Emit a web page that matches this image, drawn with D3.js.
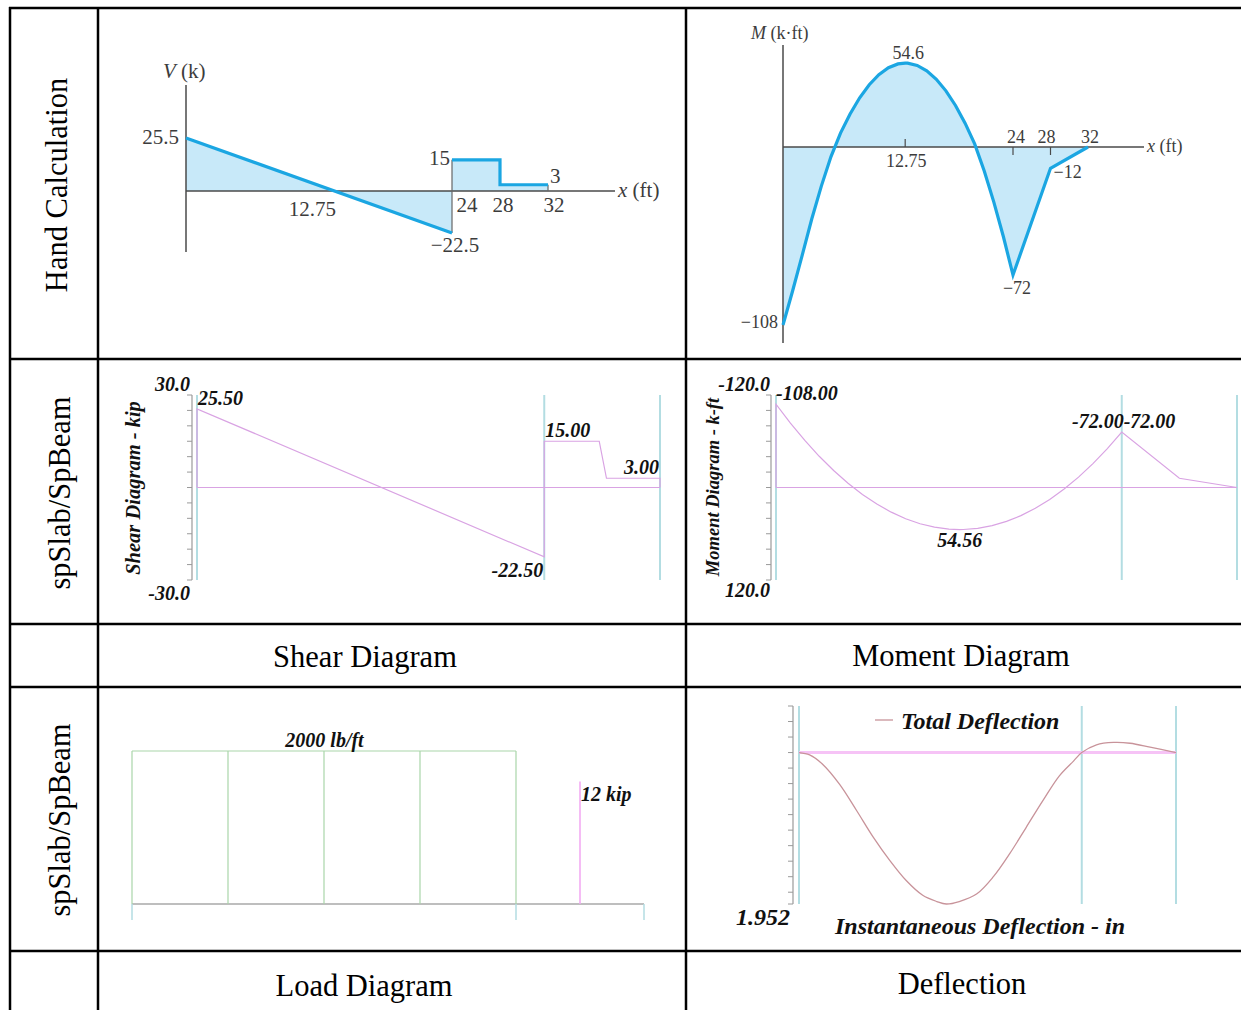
<!DOCTYPE html>
<html>
<head>
<meta charset="utf-8">
<script src="https://cdn.jsdelivr.net/npm/d3@7"></script>
<style>
body { margin: 0; background: #fff; }
svg text { font-family: "Liberation Serif", "Times New Roman", serif; }
.hand { font-family: "Liberation Serif", serif; fill: #3c3c3c; font-size: 21px; }
.hand-s { font-family: "Liberation Serif", serif; fill: #3c3c3c; font-size: 18px; }
.sp { font-family: "Liberation Serif", serif; font-weight: bold; font-style: italic; fill: #111; font-size: 20px; }
.sp-y { font-family: "Liberation Serif", serif; font-weight: bold; font-style: italic; fill: #111; font-size: 20.5px; }
.sp-ym { font-family: "Liberation Serif", serif; font-weight: bold; font-style: italic; fill: #111; font-size: 18.5px; }
.sp-l { font-family: "Liberation Serif", serif; font-weight: bold; font-style: italic; fill: #111; font-size: 24px; }
.head { font-family: "Liberation Serif", serif; font-size: 30.5px; fill: #000; }
</style>
</head>
<body>
<svg id="chart" width="1241" height="1010"></svg>
<script>
"use strict";

// hand calculation: shear V (k) along x (ft)
var handShearX = [0, 24, 24, 28, 28, 32, 32];
var handShearV = [25.5, -22.5, 15, 15, 3, 3, 0];
var handShearXTicks = [12.75, 24, 28, 32];

// bending moment M (k-ft), read every foot over the loaded span, then the overhang
var momentX = [0, 1, 2, 3, 4, 5, 6, 7, 8, 9, 10, 11, 12, 12.75, 13, 14, 15, 16, 17, 18, 19, 20, 21, 22, 23, 24, 28, 32];
var momentM = [-108, -83.5, -61, -40.5, -22, -5.5, 9, 21.5, 32, 40.5, 47, 51.5, 54, 54.56, 54.5, 53, 49.5, 44, 36.5, 27, 15.5, 2, -13.5, -31, -50.5, -72, -12, 0];
var handMomentXTicks = [12.75, 24, 28, 32];

// spSlab shear (kip), point load spread over a short length
var spShearX = [0, 0, 24, 24, 27.8, 28.3, 32, 32];
var spShearV = [0, 25.5, -22.5, 15, 15, 3, 3, 0];
var shearTicks = [30, 25, 20, 15, 10, 5, 0, -5, -10, -15, -20, -25, -30];
var momentTicks = [-120, -100, -80, -60, -40, -20, 0, 20, 40, 60, 80, 100, 120];

// supports / span ends (ft)
var supportX = [0, 24, 32];

// loads
var loadPanelX = [0, 6, 12, 18, 24];
var loadW = 2000;      // lb/ft
var pointLoadX = 28;   // ft
var pointLoadP = 12;   // kip

// instantaneous deflection (in), down is positive
var deflX = [0, 0.9, 2, 3.45, 4.9, 6.3, 7.7, 9.1, 10.5, 11.7, 12.5, 13.6, 15.1, 16.5, 17.9, 19.3, 20.7, 22.1, 23.3, 24, 25.25, 26.7, 28.1, 29.8, 32];
var deflY = [0, 0.03, 0.15, 0.41, 0.75, 1.09, 1.39, 1.65, 1.84, 1.92, 1.952, 1.92, 1.82, 1.60, 1.30, 0.96, 0.62, 0.30, 0.11, 0, -0.10, -0.13, -0.12, -0.07, 0];
var deflTicks = [-0.6, -0.4, -0.2, 0, 0.2, 0.4, 0.6, 0.8, 1.0, 1.2, 1.4, 1.6, 1.8, 1.952];
var deflMax = 1.952;

var svg = d3.select("#chart");
var minus = function(v) { return String(v).replace("-", "\u2212"); };
// spSlab prints a plain hyphen for negatives
var spLocale = d3.formatLocale({ decimal: ".", thousands: ",", grouping: [3], currency: ["$", ""], minus: "-" });

function label(g, cls, x, y, txt, anchor) {
    return g.append("text")
        .attr("class", cls)
        .attr("x", x)
        .attr("y", y)
        .attr("dy", "0.35em")
        .attr("text-anchor", anchor || "start")
        .text(txt);
}

function vline(g, x, y1, y2, color, w) {
    g.append("line")
        .attr("x1", x).attr("x2", x)
        .attr("y1", y1).attr("y2", y2)
        .attr("stroke", color)
        .attr("stroke-width", w);
}

function hline(g, x1, x2, y, color, w) {
    g.append("line")
        .attr("x1", x1).attr("x2", x2)
        .attr("y1", y).attr("y2", y)
        .attr("stroke", color)
        .attr("stroke-width", w);
}

// ---- table grid
var grid = svg.append("g");
[8, 359, 624, 687, 951].forEach(function(y) { hline(grid, 9, 1241, y, "#000", 2.5); });
[10, 98, 686].forEach(function(x) { vline(grid, x, 7, 1010, "#000", 2.5); });

function rotText(x, y, txt, cls) {
    svg.append("text")
        .attr("class", cls)
        .attr("transform", "translate(" + x + "," + y + ") rotate(-90)")
        .attr("text-anchor", "middle")
        .attr("dy", "0.35em")
        .text(txt);
}
rotText(56, 185, "Hand Calculation", "head");
rotText(59, 493, "spSlab/SpBeam", "head");
rotText(59, 820, "spSlab/SpBeam", "head");
label(svg, "head", 365, 656, "Shear Diagram", "middle");
label(svg, "head", 961, 655, "Moment Diagram", "middle");
label(svg, "head", 364, 985, "Load Diagram", "middle");
label(svg, "head", 962, 983, "Deflection", "middle");

var blue = "#1ba6e2", blueFill = "#c8e9f9", axisDark = "#4a4a4a";

// ---- hand calculation: shear
(function() {
    var g = svg.append("g");
    var x = d3.scaleLinear().domain([0, 24, 32]).range([186, 452, 548]);
    var y = d3.scaleLinear().domain([-22.5, 0, 25.5]).range([233, 191, 138]);
    var pts = handShearX.map(function(d, i) { return { x: d, v: handShearV[i] }; });
    var line = d3.line().x(function(d) { return x(d.x); }).y(function(d) { return y(d.v); });

    g.append("path").datum(pts)
        .attr("d", d3.area().x(function(d) { return x(d.x); }).y0(y(0)).y1(function(d) { return y(d.v); }))
        .attr("fill", blueFill);
    vline(g, x(0), 85, 252, axisDark, 1.5);
    hline(g, x(0), 615, y(0), axisDark, 1.5);
    g.append("path").datum([pts[1], pts[2]]).attr("d", line).attr("fill", "none").attr("stroke", "#666").attr("stroke-width", 1.2);
    g.append("path").datum([pts[5], pts[6]]).attr("d", line).attr("fill", "none").attr("stroke", "#666").attr("stroke-width", 1.2);
    g.append("path").datum(pts.slice(0, 2)).attr("d", line).attr("fill", "none").attr("stroke", blue).attr("stroke-width", 3.2);
    g.append("path").datum(pts.slice(2, 6)).attr("d", line).attr("fill", "none").attr("stroke", blue).attr("stroke-width", 3.2);

    var t = label(g, "hand", 163, 71, "");
    t.append("tspan").attr("font-style", "italic").text("V");
    t.append("tspan").text(" (k)");
    label(g, "hand", x(0) - 7, y(handShearV[0]) - 1, handShearV[0], "end");
    label(g, "hand", x(24) - 2, y(15) - 2, handShearV[2], "end");
    label(g, "hand", x(32) + 2, y(3) - 9, handShearV[4], "start");
    label(g, "hand", x(24) + 3, y(-22.5) + 12, minus(handShearV[1]), "middle");
    var offs = [-15, 15, 3, 6];
    handShearXTicks.forEach(function(d, i) {
        label(g, "hand", x(d) + offs[i], i === 0 ? 209 : 205, d, "middle");
    });
    var xl = label(g, "hand", 618, 190, "");
    xl.append("tspan").attr("font-style", "italic").text("x");
    xl.append("tspan").text(" (ft)");
})();

// ---- hand calculation: moment
(function() {
    var g = svg.append("g");
    var x = d3.scaleLinear().domain([0, 24, 32]).range([783, 1013, 1088]);
    var y = d3.scaleLinear().domain([-108, -72, 0, 54.6]).range([325, 275, 147, 63]);
    var pts = momentX.map(function(d, i) { return { x: d, m: momentM[i] }; });

    g.append("path").datum(pts)
        .attr("d", d3.area().x(function(d) { return x(d.x); }).y0(y(0)).y1(function(d) { return y(d.m); }))
        .attr("fill", blueFill);
    vline(g, x(0), 45, 343, axisDark, 1.5);
    hline(g, x(0), 1144, y(0), axisDark, 1.5);
    vline(g, x(12.75), y(0), y(0) - 8, axisDark, 1.2);
    vline(g, x(24), y(0), y(0) + 8, axisDark, 1.2);
    vline(g, x(28), y(0), y(0) + 8, axisDark, 1.2);
    g.append("path").datum(pts)
        .attr("d", d3.line().x(function(d) { return x(d.x); }).y(function(d) { return y(d.m); }))
        .attr("fill", "none").attr("stroke", blue).attr("stroke-width", 3.2).attr("stroke-linejoin", "miter");

    var t = label(g, "hand-s", 751, 33, "");
    t.append("tspan").attr("font-style", "italic").text("M");
    t.append("tspan").text(" (k\u00b7ft)");
    label(g, "hand-s", x(12.75) + 3, 53, d3.format(".1f")(54.56), "middle");
    label(g, "hand-s", x(12.75) + 1, 161, handMomentXTicks[0], "middle");
    label(g, "hand-s", x(24) + 3, 137, handMomentXTicks[1], "middle");
    label(g, "hand-s", x(28) - 4, 137, handMomentXTicks[2], "middle");
    label(g, "hand-s", x(32) + 2, 137, handMomentXTicks[3], "middle");
    var xl = label(g, "hand-s", 1147, 146, "");
    xl.append("tspan").attr("font-style", "italic").text("x");
    xl.append("tspan").text(" (ft)");
    label(g, "hand-s", x(28) + 3, 172, minus(-12), "start");
    label(g, "hand-s", x(24) + 4, 288, minus(-72), "middle");
    label(g, "hand-s", x(0) - 5, 322, minus(-108), "end");
})();

var pink = "#d9a3e3", cyan = "#b3dde2", tickGray = "#9a9a9a";

function tickAxis(g, xPos, y, ticks) {
    vline(g, xPos, y(ticks[0]), y(ticks[ticks.length - 1]), tickGray, 1.2);
    ticks.forEach(function(t) { hline(g, xPos - 5, xPos, y(t), tickGray, 1); });
}

// ---- spSlab: shear
(function() {
    var g = svg.append("g");
    var x = d3.scaleLinear().domain([0, 32]).range([197, 660]);
    var y = d3.scaleLinear().domain([30, -30]).range([395, 580]);
    tickAxis(g, 192, y, shearTicks);
    supportX.forEach(function(s) { vline(g, x(s), 395, 580, cyan, 2); });
    hline(g, x(0), x(32), y(0), pink, 1.2);
    var pts = spShearX.map(function(d, i) { return { x: d, v: spShearV[i] }; });
    g.append("path").datum(pts)
        .attr("d", d3.line().x(function(d) { return x(d.x); }).y(function(d) { return y(d.v); }))
        .attr("fill", "none").attr("stroke", pink).attr("stroke-width", 1.2);

    var f = spLocale.format(".2f"), f1 = spLocale.format(".1f");
    label(g, "sp", 190, 384, f1(shearTicks[0]), "end");
    label(g, "sp", 190, 593, f1(shearTicks[shearTicks.length - 1]), "end");
    label(g, "sp", x(0) + 1, 398, f(spShearV[1]), "start");
    label(g, "sp", x(24) + 1, 430, f(spShearV[3]), "start");
    label(g, "sp", x(32) - 1, 467, f(spShearV[5]), "end");
    label(g, "sp", x(24) - 1, 570, f(spShearV[2]), "end");
    rotText(133, 488, "Shear Diagram - kip", "sp-y");
})();

// ---- spSlab: moment (negative plotted upward)
(function() {
    var g = svg.append("g");
    var x = d3.scaleLinear().domain([0, 32]).range([776, 1237]);
    var y = d3.scaleLinear().domain([-120, 120]).range([395, 580]);
    tickAxis(g, 771, y, momentTicks);
    supportX.forEach(function(s) { vline(g, x(s), 395, 580, cyan, 2); });
    hline(g, x(0), x(32), y(0), pink, 1.2);
    var pts = [{ x: 0, m: 0 }].concat(momentX.map(function(d, i) { return { x: d, m: momentM[i] }; }));
    g.append("path").datum(pts)
        .attr("d", d3.line().x(function(d) { return x(d.x); }).y(function(d) { return y(d.m); }))
        .attr("fill", "none").attr("stroke", pink).attr("stroke-width", 1.2);

    var f = spLocale.format(".2f"), f1 = spLocale.format(".1f");
    label(g, "sp", 770, 384, f1(momentTicks[0]), "end");
    label(g, "sp", 770, 590, f1(momentTicks[momentTicks.length - 1]), "end");
    label(g, "sp", x(0), 393, f(momentM[0]), "start");
    label(g, "sp", 1072, 421, f(-72) + f(-72), "start");
    label(g, "sp", x(12.75), 540, f(momentM[13]), "middle");
    rotText(713, 487, "Moment Diagram - k-ft", "sp-ym");
})();

// ---- spSlab: loads
(function() {
    var g = svg.append("g");
    var green = "#a9d6a9";
    var x = d3.scaleLinear().domain([0, 32]).range([132, 644]);
    var y = d3.scaleLinear().domain([0, 2000]).range([904, 751]);
    var yp = d3.scaleLinear().domain([0, 15]).range([904, 751]);

    hline(g, x(0), x(32), y(0), "#a8a8a8", 1.5);
    supportX.forEach(function(s) { vline(g, x(s), y(0), y(0) + 16, cyan, 1.5); });
    hline(g, x(loadPanelX[0]), x(loadPanelX[loadPanelX.length - 1]), y(loadW), green, 1.2);
    loadPanelX.forEach(function(p) { vline(g, x(p), y(0), y(loadW), green, 1.2); });
    vline(g, x(pointLoadX), yp(0), yp(pointLoadP), "#f2a6f2", 1.5);

    label(g, "sp", x(12) + 0.5, 740, loadW + " lb/ft", "middle");
    label(g, "sp", x(pointLoadX) + 1, 794, pointLoadP + " kip", "start");
})();

// ---- spSlab: deflection
(function() {
    var g = svg.append("g");
    var curveColor = "#c8939a";
    var x = d3.scaleLinear().domain([0, 32]).range([799, 1176]);
    var y = d3.scaleLinear().domain([-0.6, deflMax]).range([706, 904]);
    tickAxis(g, 793, y, deflTicks);
    supportX.forEach(function(s) { vline(g, x(s), 706, 904, cyan, 2); });
    hline(g, x(0), x(32), y(0), "#f6c3f6", 3);
    var pts = deflX.map(function(d, i) { return { x: d, v: deflY[i] }; });
    g.append("path").datum(pts)
        .attr("d", d3.line().curve(d3.curveCatmullRom.alpha(0.5)).x(function(d) { return x(d.x); }).y(function(d) { return y(d.v); }))
        .attr("fill", "none").attr("stroke", curveColor).attr("stroke-width", 1.3);

    hline(g, 875, 893, 720, curveColor, 1.3);
    label(g, "sp-l", 901, 721, "Total Deflection", "start");
    label(g, "sp-l", 790, 917, d3.format(".3f")(deflMax), "end");
    label(g, "sp-l", 980, 926, "Instantaneous Deflection - in", "middle");
})();
</script>
</body>
</html>
